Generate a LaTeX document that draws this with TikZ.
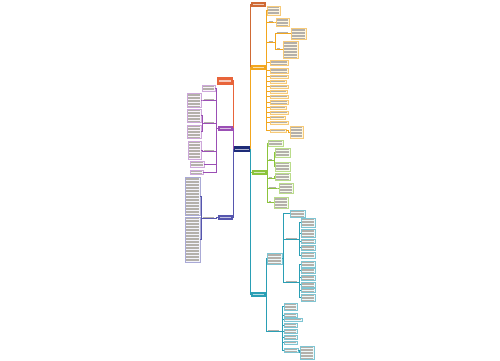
\documentclass[tikz,border=0pt]{standalone}
\usetikzlibrary{calc}
\definecolor{gk}{HTML}{B4B0AA}
\definecolor{cNv}{HTML}{1E2C78}
\definecolor{cBr}{HTML}{CF6A35}
\definecolor{cOr}{HTML}{F2A61E}
\definecolor{cGr}{HTML}{8CC43C}
\definecolor{cTe}{HTML}{2A9FB5}
\definecolor{cRd}{HTML}{E8643A}
\definecolor{cPu}{HTML}{9B4FB5}
\definecolor{cIn}{HTML}{5656AE}
\definecolor{fOr}{HTML}{FFF6E0}
\definecolor{fGr}{HTML}{F6FBEE}
\definecolor{fTe}{HTML}{EEF9FB}
\definecolor{fPu}{HTML}{FAF3FC}
\definecolor{fIn}{HTML}{F3F3FB}
\newcount\gkc
\newcommand\gk[2]{\vbox{\hrule width #1pt height .35pt
  \gkc=1
  \loop\ifnum\gkc<#2 \vskip1.15pt\hrule width #1pt height .35pt\advance\gkc by 1 \repeat}}
\newcommand\B[6]{%
  \pgfmathsetmacro\bw{#5-#3-1.6}%
  \pgfmathsetmacro\bww{#5-#3}%
  \pgfmathsetmacro\bhh{#6-#4}%
  \pgfmathtruncatemacro\bn{max(1,floor((#6-#4-0.15)/1.5))}%
  \node[#2, anchor=north west, minimum width=\bww pt, minimum height=\bhh pt] (#1) at (#3,-#4) {\gk{\bw}{\bn}};}
\newcommand\Hd[8]{%
  \pgfmathsetmacro\bw{#5-#3-3}%
  \pgfmathsetmacro\bww{#5-#3}%
  \pgfmathsetmacro\bhh{#6-#4}%
  \node[base, fill=#2, draw=#2, text=#2!35!white, anchor=north west, minimum width=\bww pt, minimum height=\bhh pt] (#1) at (#3,-#4) {\gk{\bw}{#7}};
  \CC{#8}{#2}{#1}}
\newcommand\CC[3]{\ifcase#1\or\CR[.5]{#2}{R.east}{#3.west}\or\CL[.5]{#2}{R.west}{#3.east}\fi}
\newcommand\Lb[5]{%
  \pgfmathsetmacro\bw{#5-#3-1.2}%
  \node[lbl, anchor=south west] (#1) at (#3,-#4) {\gk{\bw}{1}};
  \draw[#2, line width=.35pt] (#1.south west) -- (#1.south east);}
\newcommand\CR[4][1]{\draw[con,#2] (#3) -- ++(#1,0) |- (#4);}
\newcommand\CL[4][1]{\draw[con,#2] (#3) -- ++(-#1,0) |- (#4);}
\tikzset{
  base/.style={inner sep=.6pt, outer sep=0pt, line width=.3pt, text=gk},
  lbl/.style={base},
  bo/.style={base, draw=cOr!60, fill=fOr},
  bg/.style={base, draw=cGr!60, fill=fGr},
  bt/.style={base, draw=cTe!60, fill=fTe},
  bp/.style={base, draw=cPu!50, fill=fPu},
  bb/.style={base, draw=cIn!50, fill=fIn},
  con/.style={line width=.4pt},
}
\begin{document}
\begin{tikzpicture}[x=1pt,y=1pt]
\useasboundingbox (0,0) rectangle (500,-360);
\fill[white] (0,0) rectangle (500,-360);
% root and first level
\Hd{R}{cNv}{233.5}{146.5}{250}{151}{1}{0}
\Hd{T0}{cBr}{251}{2.5}{265}{6.5}{1}{1}
\Hd{O}{cOr}{251}{65.5}{265}{69.5}{1}{1}
\Hd{G}{cGr}{252}{170.5}{266}{174.5}{1}{1}
\Hd{T}{cTe}{251}{292.5}{265}{296.5}{1}{1}
\Hd{L1}{cRd}{217}{77}{232.5}{84}{2}{2}
\Hd{L2}{cPu}{218}{126.5}{232.5}{130.5}{1}{2}
\Hd{L3}{cIn}{218}{215.5}{232.5}{219.5}{1}{2}
% orange branch
\B{o1}{bo}{267}{6}{280}{15}
\Lb{o2}{cOr}{268}{22}{274}
\B{o2a}{bo}{276}{18}{289}{26}
\Lb{o3}{cOr}{268}{42}{274}
\Lb{o3a}{cOr}{276}{33}{289}
\B{o3a1}{bo}{291}{28}{306}{39}
\Lb{o3b}{cOr}{276}{49}{281}
\B{o3b1}{bo}{283}{41}{298}{58}
\B{o4}{bo}{270}{60}{288}{65}
\B{o5}{bo}{270}{68}{288}{73}
\B{o6}{bo}{270}{75}{288}{78}
\B{o7}{bo}{270}{80}{286}{83}
\B{o8}{bo}{270}{85}{288}{88}
\B{o9}{bo}{270}{90}{287}{93}
\B{o10}{bo}{270}{95}{288}{98}
\B{o11}{bo}{270}{100}{288}{104}
\B{o12}{bo}{270}{106}{286}{109}
\B{o13}{bo}{270}{111}{288}{114}
\B{o14}{bo}{270}{116}{285}{119}
\B{o15}{bo}{270}{121}{288}{124}
\B{o16}{bo}{270}{129}{286}{132}
\B{o16a}{bo}{290}{126}{303}{138}
\foreach \c in {o1,o4,o5,o6,o7,o8,o9,o10,o11,o12,o13,o14,o15,o16}{\CR[1.5]{cOr}{O.east}{\c.west}}
\foreach \c in {o2,o3}{\CR[1.5]{cOr}{O.east}{\c.south west}}
\CR{cOr}{o2.south east}{o2a.west}
\foreach \c in {o3a,o3b}{\CR{cOr}{o3.south east}{\c.south west}}
\CR{cOr}{o3a.south east}{o3a1.west}
\CR{cOr}{o3b.south east}{o3b1.west}
\CR[2]{cOr}{o16.east}{o16a.west}
% green branch
\B{g1}{bg}{268}{140}{283}{146}
\Lb{g2}{cGr}{268}{160}{273}
\B{g2a}{bg}{275}{148}{290}{157}
\B{g2b}{bg}{275}{162}{290}{171}
\Lb{g3}{cGr}{268}{178}{273}
\B{g3a}{bg}{275}{173}{290}{180}
\Lb{g4}{cGr}{268}{188}{277}
\B{g4a}{bg}{279}{183}{293}{193}
\Lb{g5}{cGr}{268}{202}{272}
\B{g5a}{bg}{274}{197}{288}{208}
\CR{cGr}{G.east}{g1.west}
\foreach \c in {g2,g3,g4,g5}{\CR{cGr}{G.east}{\c.south west}}
\foreach \c in {g2a,g2b}{\CR{cGr}{g2.south east}{\c.west}}
\CR{cGr}{g3.south east}{g3a.west}
\CR{cGr}{g4.south east}{g4a.west}
\CR{cGr}{g5.south east}{g5a.west}
% teal branch
\B{t1}{bt}{267}{253}{282}{264}
\B{t1a}{bt}{290}{210}{305}{217}
\Lb{t1b}{cTe}{285}{239}{298}
\B{t1b1}{bt}{301}{218}{315}{227}
\B{t1b2}{bt}{301}{229}{315}{237}
\B{t1b3}{bt}{301}{239}{315}{243}
\B{t1b4}{bt}{301}{245}{315}{250}
\B{t1b5}{bt}{301}{252}{315}{258}
\Lb{t1c}{cTe}{285}{282}{298}
\B{t1c1}{bt}{301}{261}{315}{267}
\B{t1c2}{bt}{301}{268}{315}{273}
\B{t1c3}{bt}{301}{275}{315}{280}
\B{t1c4}{bt}{301}{282}{315}{287}
\B{t1c5}{bt}{301}{288}{315}{292}
\B{t1c6}{bt}{301}{294}{315}{301}
\Lb{t2}{cTe}{267}{331}{280}
\B{t2a}{bt}{284}{303}{297}{310}
\B{t2b}{bt}{284}{313}{297}{317}
\B{t2c}{bt}{284}{318}{302}{321}
\B{t2d}{bt}{284}{323}{297}{327}
\B{t2e}{bt}{284}{329}{297}{333}
\B{t2f}{bt}{284}{335}{297}{339}
\B{t2g}{bt}{284}{341}{297}{344}
\B{t2h}{bt}{284}{348}{298}{352}
\B{t2h1}{bt}{300}{346}{314}{359}
\CR{cTe}{T.east}{t1.west}
\CR{cTe}{T.east}{t2.south west}
\CR[1.5]{cTe}{t1.east}{t1a.west}
\foreach \c in {t1b,t1c}{\CR[1.5]{cTe}{t1.east}{\c.south west}}
\foreach \c in {t1b1,t1b2,t1b3,t1b4,t1b5}{\CR[1.5]{cTe}{t1b.south east}{\c.west}}
\foreach \c in {t1c1,t1c2,t1c3,t1c4,t1c5,t1c6}{\CR[1.5]{cTe}{t1c.south east}{\c.west}}
\foreach \c in {t2a,t2b,t2c,t2d,t2e,t2f,t2g,t2h}{\CR[2.5]{cTe}{t2.south east}{\c.west}}
\CR{cTe}{t2h.east}{t2h1.west}
% purple branch (left)
\B{p1}{bp}{202}{85}{215}{91}
\Lb{p2}{cPu}{203}{100}{215}
\B{p2a}{bp}{187}{93}{201}{107}
\Lb{p3}{cPu}{203}{123}{215}
\B{p3a}{bp}{187}{109}{201}{122}
\B{p3b}{bp}{187}{125}{201}{138}
\Lb{p4}{cPu}{203}{151}{215}
\B{p4a}{bp}{188}{141}{201}{159}
\B{p5}{bp}{190}{161}{204}{167}
\B{p6}{bp}{190}{170}{203}{174}
\foreach \c in {p1,p5,p6}{\CL[1.5]{cPu}{L2.west}{\c.east}}
\foreach \c in {p2,p3,p4}{\CL[1.5]{cPu}{L2.west}{\c.south east}}
\CL{cPu}{p2.south west}{p2a.east}
\foreach \c in {p3a,p3b}{\CL{cPu}{p3.south west}{\c.east}}
\CL{cPu}{p4.south west}{p4a.east}
% indigo branch (left)
\Lb{b1}{cIn}{202}{218}{215}
\B{b1a}{bb}{185}{177}{200}{215}
\B{b1b}{bb}{185}{217}{200}{262}
\CL[1.5]{cIn}{L3.west}{b1.south east}
\foreach \c in {b1a,b1b}{\CL{cIn}{b1.south west}{\c.east}}
\end{tikzpicture}
\end{document}
